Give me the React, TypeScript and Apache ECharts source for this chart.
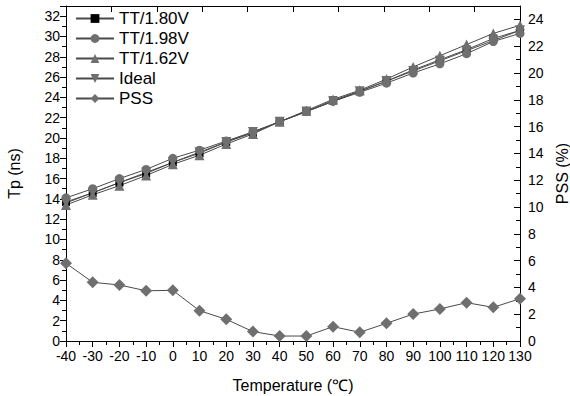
import React, { useEffect, useRef } from "react";
import * as echarts from "echarts";

const temps = [-40, -30, -20, -10, 0, 10, 20, 30, 40, 50, 60, 70, 80, 90, 100, 110, 120, 130];
const tt180 = [13.7, 14.6, 15.6, 16.5, 17.6, 18.5, 19.6, 20.5, 21.6, 22.6, 23.7, 24.6, 25.6, 26.7, 27.7, 28.7, 29.8, 30.6];
const tt198 = [14.1, 15.0, 16.0, 16.9, 18.0, 18.8, 19.7, 20.6, 21.6, 22.6, 23.6, 24.5, 25.4, 26.4, 27.3, 28.3, 29.5, 30.3];
const tt162 = [13.4, 14.4, 15.3, 16.3, 17.4, 18.3, 19.4, 20.4, 21.6, 22.7, 23.8, 24.7, 25.8, 27.0, 28.1, 29.2, 30.3, 31.1];
const ideal = [13.6, 14.6, 15.6, 16.6, 17.6, 18.6, 19.6, 20.6, 21.6, 22.6, 23.6, 24.6, 25.6, 26.6, 27.6, 28.6, 29.6, 30.6];
const pss = [5.8, 4.38, 4.18, 3.75, 3.78, 2.26, 1.62, 0.7, 0.37, 0.37, 1.07, 0.65, 1.32, 2.01, 2.39, 2.86, 2.51, 3.16];

const FONT = "'Liberation Sans', Arial, sans-serif";
const GRAY = "#6f6f6f";
const LINE = "#4a4a4a";

const pairs = (ys: number[]) => temps.map((t, i) => [t, ys[i]]);

export default function App() {
  const ref = useRef<HTMLDivElement>(null);
  useEffect(() => {
    const chart = echarts.init(ref.current!, null, { renderer: "svg" });
    const axisLine = { show: true, onZero: false, lineStyle: { color: "#000", width: 1 } };
    const label = { color: "#000", fontSize: 14, fontFamily: FONT };
    const mkSeries = (name: string, data: number[], symbol: string, color: string, size: number, extra: any = {}) => ({
      name,
      type: "line",
      data: pairs(data),
      symbol,
      symbolSize: size,
      lineStyle: { color: LINE, width: 1 },
      itemStyle: { color },
      ...extra,
    });
    chart.setOption({
      animation: false,
      grid: { left: 66, right: 50, top: 6, bottom: 55, show: false, containLabel: false, outerBoundsMode: "none" },
      legend: {
        show: true,
        orient: "vertical",
        left: 70,
        top: 5,
        itemWidth: 38,
        itemHeight: 11,
        itemGap: 3,
        textStyle: { color: "#000", fontSize: 17, fontFamily: FONT },
        data: ["TT/1.80V", "TT/1.98V", "TT/1.62V", "Ideal", "PSS"],
      },
      xAxis: [
        {
          type: "value",
          position: "bottom",
          min: -40,
          max: 130,
          interval: 10,
          axisLine,
          axisTick: { show: true, inside: false, length: 6, lineStyle: { color: "#000" } },
          minorTick: { show: true, splitNumber: 2, length: 4, lineStyle: { color: "#000" } },
          splitLine: { show: false },
          axisLabel: { ...label, margin: 8 },
          name: "Temperature (℃)",
          nameLocation: "middle",
          nameGap: 36,
          nameTextStyle: { color: "#000", fontSize: 16, fontFamily: FONT },
        },
        {
          type: "value",
          position: "top",
          min: 0,
          max: 10,
          interval: 1,
          axisLine,
          axisTick: { show: true, inside: true, length: 6, lineStyle: { color: "#000" } },
          axisLabel: { show: false },
          splitLine: { show: false },
        },
      ],
      yAxis: [
        {
          type: "value",
          position: "left",
          min: 0,
          max: 33,
          interval: 2,
          axisLine,
          axisTick: { show: true, inside: false, length: 6, lineStyle: { color: "#000" } },
          minorTick: { show: true, splitNumber: 2, length: 4, lineStyle: { color: "#000" } },
          splitLine: { show: false },
          axisLabel: { ...label, margin: 6, formatter: (v: number) => (v > 32 ? "" : String(v)) },
          name: "Tp (ns)",
          nameLocation: "middle",
          nameGap: 44,
          nameTextStyle: { color: "#000", fontSize: 16, fontFamily: FONT },
        },
        {
          type: "value",
          position: "right",
          min: 0,
          max: 25,
          interval: 2,
          axisLine,
          axisTick: { show: true, inside: true, length: 6, lineStyle: { color: "#000" } },
          minorTick: { show: true, splitNumber: 2, length: 4, lineStyle: { color: "#000" } },
          splitLine: { show: false },
          axisLabel: { ...label, margin: 8, formatter: (v: number) => (v > 24 ? "" : String(v)) },
          name: "PSS (%)",
          nameLocation: "middle",
          nameGap: 32,
          nameTextStyle: { color: "#000", fontSize: 16, fontFamily: FONT },
        },
      ],
      series: [
        mkSeries("TT/1.80V", tt180, "rect", "#000", 8),
        mkSeries("TT/1.98V", tt198, "circle", GRAY, 9),
        mkSeries("TT/1.62V", tt162, "triangle", GRAY, 10),
        mkSeries("Ideal", ideal, "triangle", GRAY, 10, { symbolRotate: 180 }),
        mkSeries("PSS", pss, "diamond", GRAY, 12, { yAxisIndex: 1 }),
      ],
    });
    return () => chart.dispose();
  }, []);
  return <div ref={ref} style={{ position: "fixed", left: 0, top: 0, width: 570, height: 396, background: "#fff" }} />;
}
